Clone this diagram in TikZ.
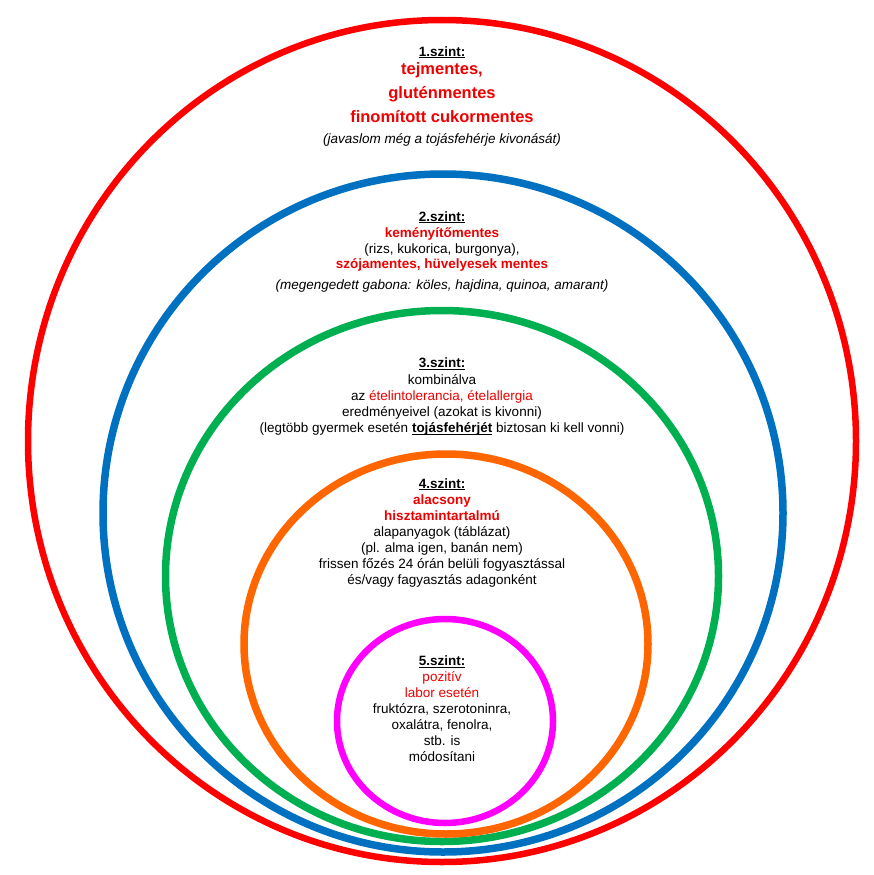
\documentclass[tikz,border=0pt]{standalone}
\usepackage{fontspec}
\setmainfont{Liberation Sans}
\usepackage{tikz}
\usetikzlibrary{positioning}

\definecolor{ringred}{RGB}{255,0,0}
\definecolor{ringblue}{RGB}{0,112,192}
\definecolor{ringgreen}{RGB}{0,176,80}
\definecolor{ringorange}{RGB}{255,102,0}
\definecolor{ringpink}{RGB}{255,0,255}
\definecolor{txtred}{RGB}{238,0,0}

\tikzstyle{ring} = [line width=7.5pt]
\tikzstyle{lvl} = [align=center, anchor=north, inner sep=0pt, font=\fontsize{13.5}{16}\selectfont]

\newsavebox{\ahbox}
\newcommand{\alahuz}[1]{\sbox{\ahbox}{#1}\rlap{\rule[-2pt]{\wd\ahbox}{0.9pt}}\usebox{\ahbox}}
\newcommand{\szintcim}[1]{\alahuz{\textbf{#1}}}
\newcommand{\piros}[1]{\textcolor{txtred}{\textbf{#1}}}

\begin{document}
\begin{tikzpicture}[x=1pt, y=-1pt]

    \useasboundingbox (0,0) rectangle (873,875);

    \coordinate (c1) at (442,441);
    \coordinate (c2) at (443,513);
    \coordinate (c3) at (442,576);
    \coordinate (c4) at (446,644);
    \coordinate (c5) at (445,721);

    % rings, outer first
    \draw[ring, ringred, line width=6.5pt] (c1) ellipse (414pt and 421pt);
    \draw[ring, ringblue] (c2) ellipse (340pt and 339pt);
    \draw[ring, ringgreen] (c3) ellipse (276.5pt and 265.5pt);
    \draw[ring, ringorange] (c4) ellipse (202pt and 190pt);
    \draw[ring, ringpink, line width=6.5pt] (c5) ellipse (108pt and 102pt);

    % level 1
    \node[lvl] (sz1) at (442,46.3) {\szintcim{1.szint:}\\[2.5pt]
        {\fontsize{16.5}{16}\selectfont\piros{tejmentes,}}\\[7.5pt]
        {\fontsize{16.5}{16}\selectfont\piros{gluténmentes}}\\[8pt]
        {\fontsize{16.5}{16}\selectfont\piros{finomított cukormentes}}\\[5.5pt]
        \textit{(javaslom még a tojásfehérje kivonását)}};

    % level 2
    \node[lvl] (sz2) at (442,211.3) {\szintcim{2.szint:}\\[0.5pt]
        \piros{keményítőmentes}\\[-0.5pt]
        (rizs, kukorica, burgonya),\\[-0.5pt]
        \piros{szójamentes, hüvelyesek mentes}\\[5pt]
        \textit{(megengedett gabona: köles, hajdina, quinoa, amarant)}};

    % level 3
    \node[lvl] (sz3) at (442,357.8) {\szintcim{3.szint:}\\[1pt]
        kombinálva\\
        az \textcolor{txtred}{ételintolerancia, ételallergia}\\
        eredményeivel (azokat is kivonni)\\
        (legtöbb gyermek esetén \alahuz{\textbf{tojásfehérjét}} biztosan ki kell vonni)};

    % level 4
    \node[lvl] (sz4) at (442,478.3) {\szintcim{4.szint:}\\
        \piros{alacsony}\\
        \piros{hisztamintartalmú}\\
        alapanyagok (táblázat)\\
        (pl. alma igen, banán nem)\\
        frissen főzés 24 órán belüli fogyasztással\\
        és/vagy fagyasztás adagonként};

    % level 5
    \node[lvl] (sz5) at (442,655.8) {\szintcim{5.szint:}\\
        \textcolor{txtred}{pozitív}\\
        \textcolor{txtred}{labor esetén}\\
        fruktózra, szerotoninra,\\
        oxalátra, fenolra,\\
        stb. is\\
        módosítani};

\end{tikzpicture}
\end{document}
